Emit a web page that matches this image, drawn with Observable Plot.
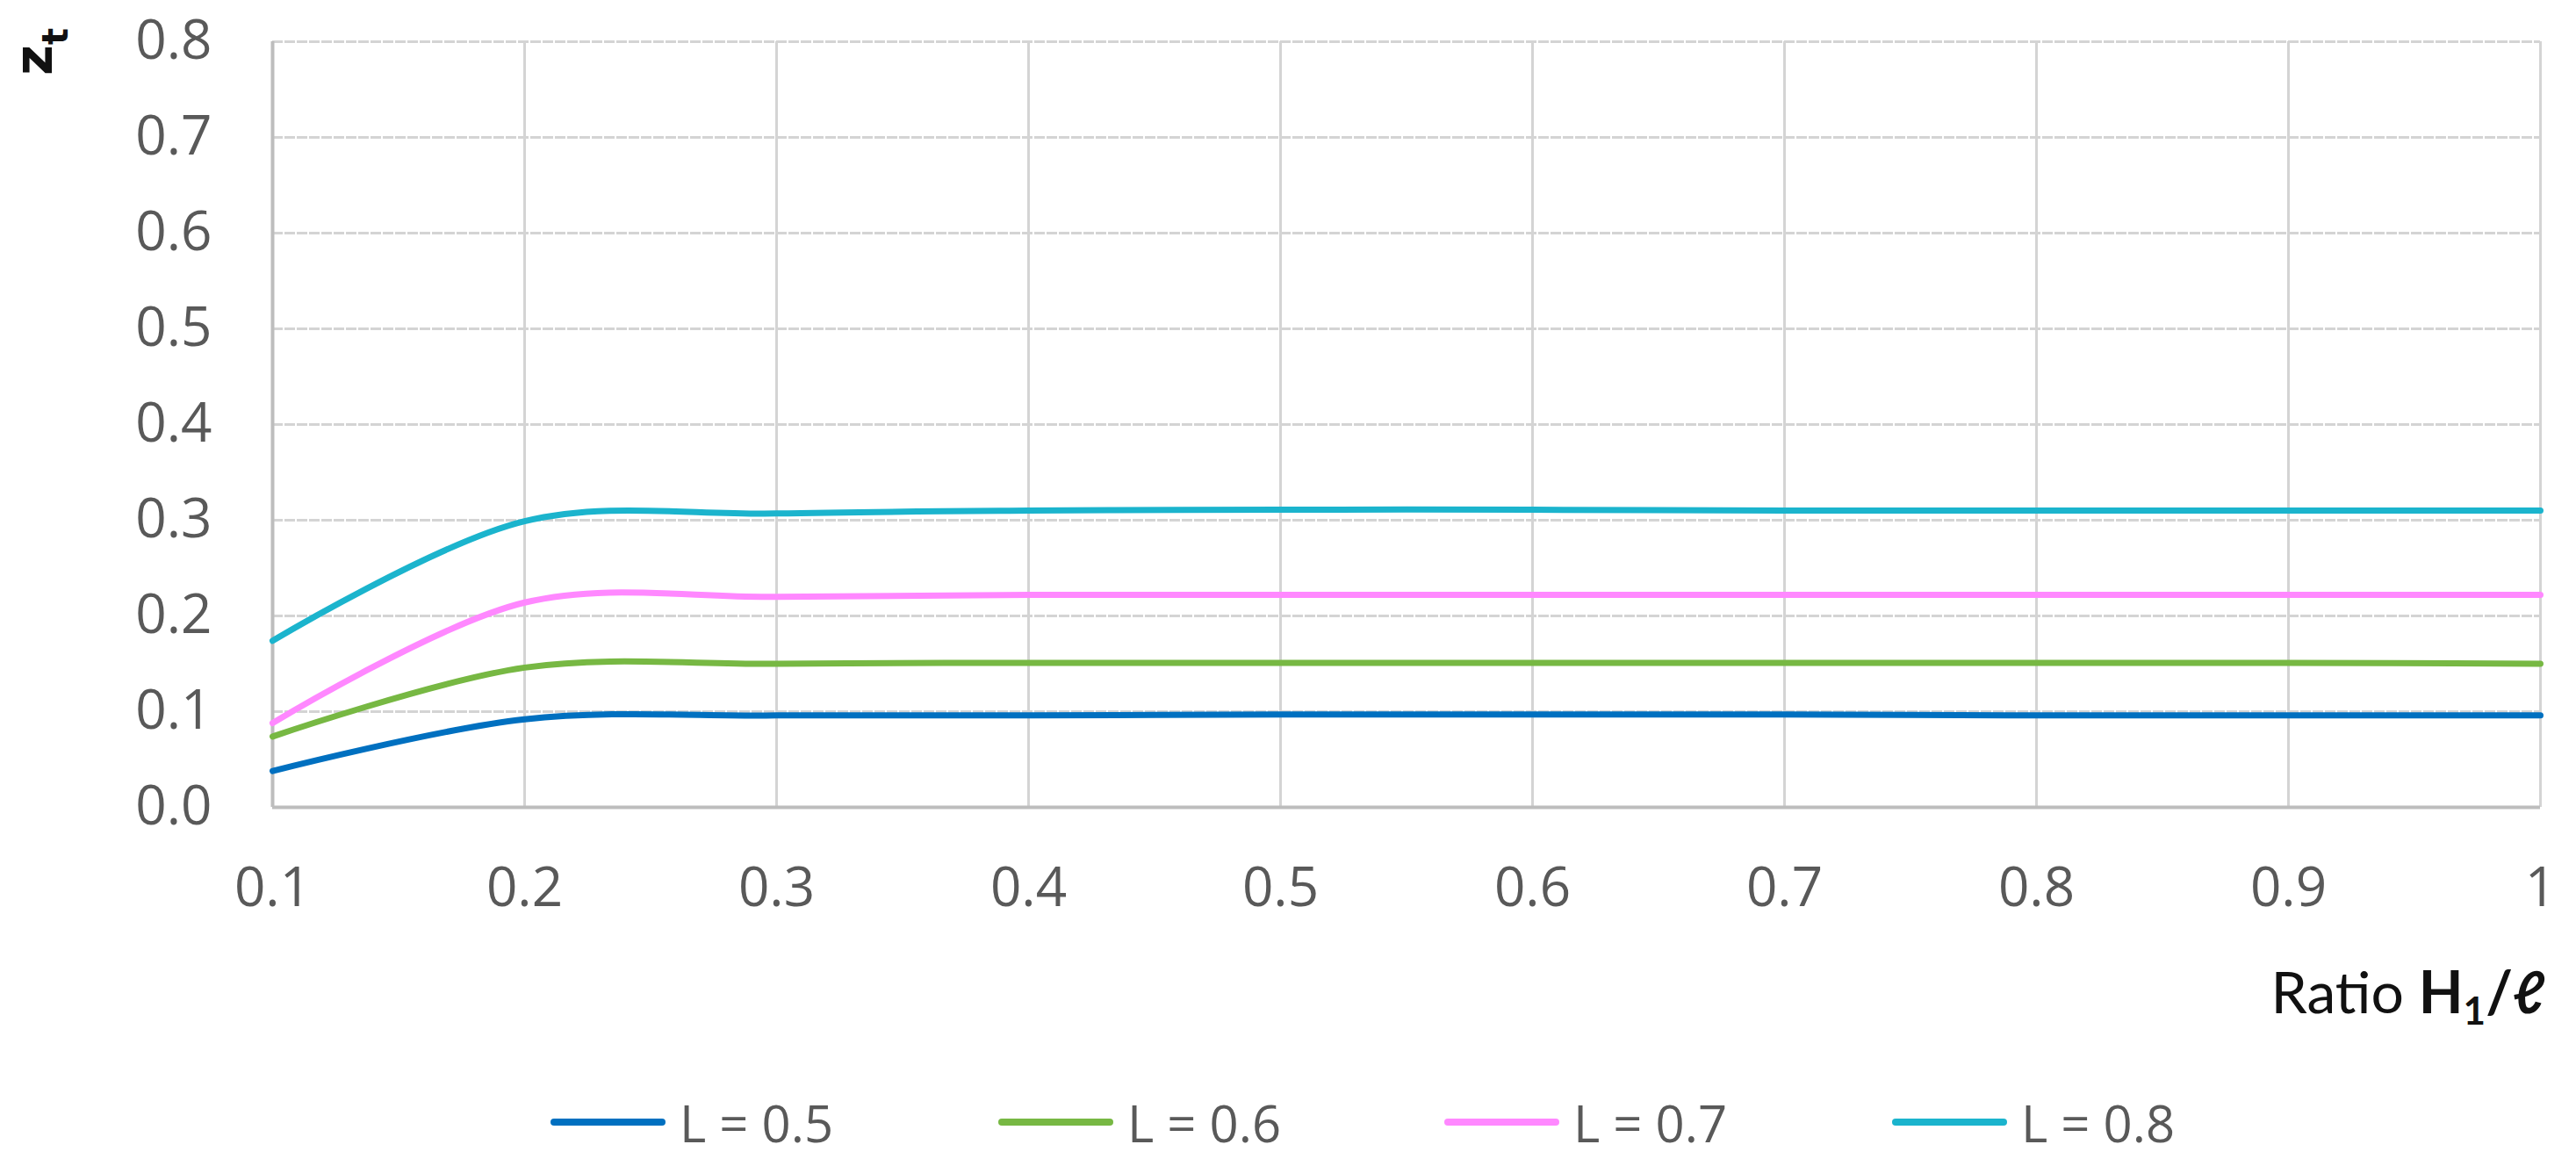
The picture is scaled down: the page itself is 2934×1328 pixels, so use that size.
<!DOCTYPE html>
<html>
<head>
<meta charset="utf-8">
<script src="https://cdn.jsdelivr.net/npm/d3@7"></script>
<script src="https://cdn.jsdelivr.net/npm/@observablehq/plot@0.6"></script>
<style>
  html, body { margin: 0; padding: 0; background: #fff; }
  #wrap { width: 2934px; }
  #legend { position: relative; width: 2934px; height: 103px; font-family: "Open Sans", sans-serif; }
  .item { position: absolute; top: 0; height: 106px; display: flex; align-items: center; }
  .sw { width: 131px; height: 8px; border-radius: 4px; margin-right: 16px; }
  .lab { font-size: 58px; color: #595959; }
</style>
</head>
<body>
<div id="wrap"></div>
<script>
// ---- data ----
const ratios = [0.1, 0.2, 0.3, 0.4, 0.5, 0.6, 0.7, 0.8, 0.9, 1.0];
const seriesNames = ["L = 0.5", "L = 0.6", "L = 0.7", "L = 0.8"];
const zL05 = [0.038, 0.092, 0.096, 0.096, 0.097, 0.097, 0.097, 0.096, 0.096, 0.096];
const zL06 = [0.074, 0.146, 0.150, 0.151, 0.151, 0.151, 0.151, 0.151, 0.151, 0.150];
const zL07 = [0.088, 0.214, 0.220, 0.222, 0.222, 0.222, 0.222, 0.222, 0.222, 0.222];
const zL08 = [0.174, 0.299, 0.307, 0.310, 0.311, 0.311, 0.310, 0.310, 0.310, 0.310];
const seriesColors = ["#0070C0", "#77B843", "#FF88FF", "#1BB4CD"];
const yTicks = [0, 0.1, 0.2, 0.3, 0.4, 0.5, 0.6, 0.7, 0.8];
const xTicks = ratios;

const allSeries = [zL05, zL06, zL07, zL08];
const rows = [];
allSeries.forEach((vals, i) => vals.forEach((v, j) => rows.push({ratio: ratios[j], z: v, series: seriesNames[i]})));

const W = 2934, H = 1225;
const fmtX = d => d === 1 ? "1" : d.toFixed(1);
const chart = Plot.plot({
  width: W, height: H,
  marginLeft: 310, marginRight: 41, marginTop: 47, marginBottom: 306,
  style: {fontFamily: "Open Sans, sans-serif", fontSize: "62px", color: "#595959", background: "#fff"},
  x: {domain: [0.1, 1], label: null},
  y: {domain: [0, 0.8], label: null},
  color: {domain: seriesNames, range: seriesColors},
  marks: [
    Plot.gridY(yTicks, {stroke: "#d4d4d4", strokeOpacity: 1, strokeWidth: 3, strokeDasharray: "12,2"}),
    Plot.gridX(xTicks, {stroke: "#d4d4d4", strokeOpacity: 1, strokeWidth: 3}),
    Plot.ruleX([0.1], {stroke: "#bdbdbd", strokeWidth: 4}),
    Plot.ruleY([0], {stroke: "#bdbdbd", strokeWidth: 4}),
    Plot.axisX({ticks: xTicks, tickFormat: fmtX, tickSize: 0, tickPadding: 68, label: null, fill: "#595959"}),
    Plot.axisY({ticks: yTicks, tickFormat: d => d.toFixed(1), tickSize: 0, tickPadding: 69, label: null, fill: "#595959"}),
    Plot.line(rows, {x: "ratio", y: "z", stroke: "series", z: "series", strokeWidth: 7, curve: "catmull-rom"})
  ]
});

const svg = d3.select(chart);
// x axis title
const xt = svg.append("text")
  .attr("x", 2898).attr("y", 1154).attr("text-anchor", "end")
  .attr("font-family", "Lato, sans-serif").attr("font-size", 66).attr("fill", "#111");
xt.append("tspan").text("Ratio ");
xt.append("tspan").attr("font-weight", "bold").text("H");
xt.append("tspan").attr("font-weight", "bold").attr("font-size", 44).attr("dy", 13).text("1");
xt.append("tspan").attr("font-weight", "bold").attr("dy", -13).text("/");
xt.append("tspan").attr("font-weight", "bold").attr("font-style", "italic").text("\u2113");
// y axis title
const yt = svg.append("text")
  .attr("transform", "translate(59,86) rotate(-90)").attr("text-anchor", "start")
  .attr("font-family", "DejaVu Sans, sans-serif").attr("font-size", 60).attr("font-weight", 700).attr("fill", "#111");
yt.append("tspan").text("z");
yt.append("tspan").attr("font-size", 40).attr("font-weight", 700).attr("dy", 18).text("t");

document.getElementById("wrap").appendChild(chart);

// legend
const legend = document.createElement("div");
legend.id = "legend";
const lefts = [627, 1137, 1645, 2155];
seriesNames.forEach((n, i) => {
  const it = document.createElement("div");
  it.className = "item";
  it.style.left = lefts[i] + "px";
  it.innerHTML = `<div class="sw" style="background:${seriesColors[i]}"></div><span class="lab">${n}</span>`;
  legend.appendChild(it);
});
document.getElementById("wrap").appendChild(legend);
</script>
</body>
</html>
